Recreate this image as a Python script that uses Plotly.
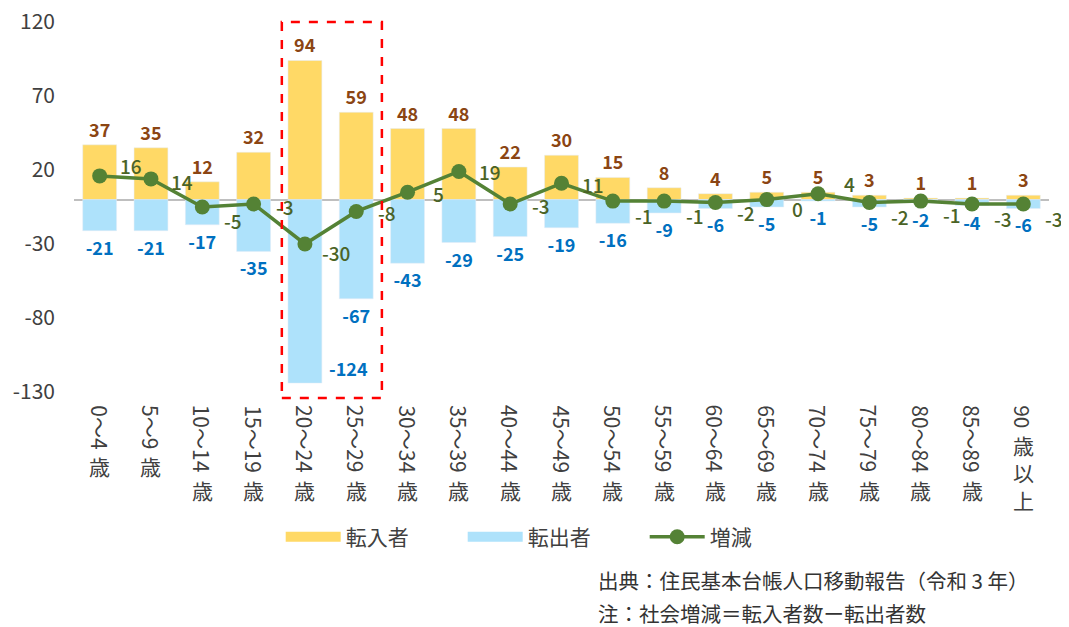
import plotly.graph_objects as go

# 年齢階級
age_groups = ["0～4歳", "5～9歳", "10～14歳", "15～19歳", "20～24歳", "25～29歳",
              "30～34歳", "35～39歳", "40～44歳", "45～49歳", "50～54歳", "55～59歳",
              "60～64歳", "65～69歳", "70～74歳", "75～79歳", "80～84歳", "85～89歳",
              "90歳以上"]
transfer_in = [37, 35, 12, 32, 94, 59, 48, 48, 22, 30, 15, 8, 4, 5, 5, 3, 1, 1, 3]
transfer_out = [-21, -21, -17, -35, -124, -67, -43, -29, -25, -19, -16, -9, -6, -5, -1, -5, -2, -4, -6]
net_change = [16, 14, -5, -3, -30, -8, 5, 19, -3, 11, -1, -1, -2, 0, 4, -2, -1, -3, -3]
y_ticks = [-130, -80, -30, 20, 70, 120]

# label offsets for the 増減 values (pixels, downward positive)
net_label_dy = [-10, 3, 13, 2, 8, 1, 1, 0, 1, 1, 14, 14, 10, 9, -10, 14, 13, 14, 14]

FONT = "Noto Sans CJK JP"
YELLOW = "#FFD966"
BLUE = "#AEE2FB"
GREEN = "#548235"

x = list(range(len(age_groups)))
fig = go.Figure()

out_text = [str(v) if v > -100 else "" for v in transfer_out]

fig.add_trace(go.Bar(
    x=x, y=transfer_in, marker_color=YELLOW, name="転入者", showlegend=False,
    text=[str(v) for v in transfer_in], textposition="outside",
    textfont=dict(family=FONT, size=18, color="#8B4513", weight="bold"),
    cliponaxis=False,
))
fig.add_trace(go.Bar(
    x=x, y=transfer_out, marker_color=BLUE, name="転出者", showlegend=False,
    text=out_text, textposition="outside",
    textfont=dict(family=FONT, size=18, color="#0070C0", weight="bold"),
    cliponaxis=False,
))

# legend entries
fig.add_trace(go.Scatter(x=[None], y=[None], mode="lines", name="転入者",
                         line=dict(color=YELLOW, width=13)))
fig.add_trace(go.Scatter(x=[None], y=[None], mode="lines", name="転出者",
                         line=dict(color=BLUE, width=13)))
fig.add_trace(go.Scatter(
    x=x, y=net_change, mode="lines+markers", name="増減",
    line=dict(color=GREEN, width=3.5), marker=dict(color=GREEN, size=15),
    cliponaxis=False,
))

annotations = []
for i, v in enumerate(net_change):
    annotations.append(dict(
        x=i, y=v, xref="x", yref="y", text=str(v), showarrow=False,
        xanchor="center", yanchor="middle", xshift=31, yshift=-net_label_dy[i],
        font=dict(family=FONT, size=19, color="#4A6326", weight=500),
    ))

for i, v in enumerate(transfer_out):
    if v <= -100:
        annotations.append(dict(
            x=i, y=v, xref="x", yref="y", text=str(v), showarrow=False,
            xanchor="center", yanchor="middle", xshift=44, yshift=15,
            font=dict(family=FONT, size=18, color="#0070C0", weight="bold"),
        ))

# vertical category labels: digits rotated, kanji upright
fs = 21
for i, lab in enumerate(age_groups):
    k = 0
    while k < len(lab) and (lab[k].isdigit() or lab[k] == "～"):
        k += 1
    rot, upright = lab[:k], lab[k:]
    length = sum(fs * 0.57 if c.isdigit() else fs for c in rot)
    annotations.append(dict(
        x=i, y=0, xref="x", yref="paper", text=rot, showarrow=False,
        textangle=90, xanchor="center", yanchor="top", yshift=-11,
        font=dict(family=FONT, size=fs, color="#404040"),
    ))
    annotations.append(dict(
        x=i, y=0, xref="x", yref="paper", text="<br>".join(upright), showarrow=False,
        xanchor="center", yanchor="top", yshift=-(12 + length),
        font=dict(family=FONT, size=fs, color="#404040"),
    ))

notes = ["出典：住民基本台帳人口移動報告（令和 3 年）", "注：社会増減＝転入者数ー転出者数"]
for j, t in enumerate(notes):
    annotations.append(dict(
        x=0.535, y=-0.508 - 0.089 * j, xref="paper", yref="paper", text=t,
        showarrow=False, xanchor="left", yanchor="middle",
        font=dict(family=FONT, size=20.5, color="#333333"),
    ))

# page body adds an 8px offset, so the figure is sized to fit the window
fig.update_layout(
    width=1061, height=619,
    margin=dict(l=66, r=20, t=14, b=235, autoexpand=False),
    paper_bgcolor="white", plot_bgcolor="white",
    barmode="relative", bargap=0.34,
    font=dict(family=FONT, color="#404040"),
    showlegend=True,
    legend=dict(orientation="h", x=0.212, xanchor="left", y=-0.392, yanchor="middle",
                font=dict(family=FONT, size=21, color="#404040"),
                entrywidth=112, itemwidth=55),
    annotations=annotations,
    shapes=[dict(type="rect", xref="x", yref="paper", x0=3.55, x1=5.5, y0=-0.016, y1=1.0,
                 line=dict(color="#FF0000", width=2.5, dash="dash"))],
)
fig.update_xaxes(range=[-0.5, 18.5], showticklabels=False, showgrid=False,
                 zeroline=False, showline=False, ticks="")
fig.update_yaxes(range=[-130, 120], tickvals=y_ticks, ticktext=[str(v) for v in y_ticks],
                 showgrid=False, zeroline=True, zerolinecolor="#BFBFBF", zerolinewidth=2,
                 showline=False, ticks="", ticklabelstandoff=18, ticklabeloverflow="allow",
                 tickfont=dict(family=FONT, size=21, color="#404040"))

fig.write_html("out.html")
